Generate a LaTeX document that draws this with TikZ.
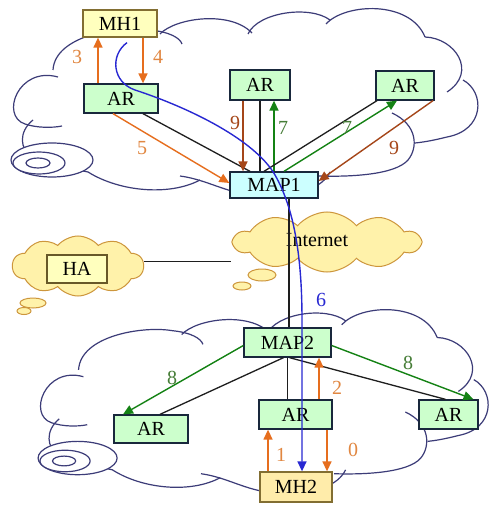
\documentclass[tikz,border=0pt]{standalone}
\usepackage{fontspec}
\setmainfont{Liberation Serif}
\usetikzlibrary{arrows.meta,shapes.symbols,calc}

\definecolor{cloudline}{RGB}{60,60,120}
\definecolor{argreen}{RGB}{204,255,204}
\definecolor{mapcyan}{RGB}{204,255,255}
\definecolor{mhyellow}{RGB}{255,255,190}
\definecolor{mhtwo}{RGB}{255,236,170}
\definecolor{boxline}{RGB}{25,40,60}
\definecolor{mhline}{RGB}{130,110,50}
\definecolor{yfill}{RGB}{255,242,170}
\definecolor{yline}{RGB}{205,150,60}
\definecolor{orng}{RGB}{230,110,30}
\definecolor{orlbl}{RGB}{225,135,65}
\definecolor{brwn}{RGB}{165,70,25}
\definecolor{grn}{RGB}{20,130,20}
\definecolor{grlbl}{RGB}{70,125,55}
\definecolor{blu}{RGB}{40,40,210}
\definecolor{blk}{RGB}{30,30,30}

\newcommand{\cloudarcs}{%
 \draw[cloudarc] (53,70) .. controls (55,35) and (120,25) .. (150,30) .. controls (170,32) and (180,38) .. (182,44);
 \draw[cloudarc] (58,77) .. controls (18,66) and (0,116) .. (25,124) .. controls (37,128) and (52,128) .. (62,126);
 \draw[cloudarc] (33,120) .. controls (18,132) and (20,150) .. (32,156) .. controls (45,165) and (70,168) .. (88,172) .. controls (120,192) and (170,196) .. (200,180);
 \draw[cloudarc] (180,176) .. controls (210,180) and (230,196) .. (265,196) .. controls (300,196) and (322,188) .. (330,172);
 \draw[cloudarc] (160,34) .. controls (175,18) and (230,10) .. (252,33);
 \draw[cloudarc] (248,34) .. controls (258,12) and (310,5) .. (330,20);
 \draw[cloudarc] (326,24) .. controls (345,3) and (410,0) .. (425,37);
 \draw[cloudarc] (425,37) .. controls (455,38) and (478,72) .. (447,92);
 \draw[cloudarc] (463,80) .. controls (485,92) and (485,130) .. (447,137) .. controls (435,140) and (425,142) .. (415,143);
 \draw[cloudarc] (318,176) .. controls (350,177) and (395,175) .. (408,160) .. controls (418,148) and (418,125) .. (392,113);
 \draw[cloudarc, fill=white] (52,160) ellipse [x radius=41, y radius=17];
 \draw[cloudarc, fill=white] (39,163) ellipse [x radius=26, y radius=11];
 \draw[cloudarc] (38,163) ellipse [x radius=12, y radius=5];
}

\begin{document}
\begin{tikzpicture}[x=1pt,y=-1pt,
  cloudarc/.style={draw=cloudline, line width=1.2pt},
  box/.style={draw=boxline, line width=1.3pt, inner sep=0pt, text=black,
    font=\fontsize{20}{20}\selectfont, minimum height=29pt},
  arbox/.style={box, fill=argreen},
  mapbox/.style={box, fill=mapcyan},
  mhbox/.style={box, draw=mhline, fill=mhyellow},
  ycloud/.style={cloud, cloud puffs=10, cloud puff arc=100, draw=yline, fill=yfill, line width=1pt, inner sep=0pt},
  bubble/.style={draw=yline, fill=yfill, line width=1pt},
  tip/.style={-{Triangle[width=9pt,length=10pt]}},
  oarrow/.style={tip, draw=orng, line width=1.4pt},
  barrow/.style={tip, draw=brwn, line width=1.4pt},
  garrow/.style={tip, draw=grn, line width=1.4pt},
  bluearrow/.style={tip, draw=blu, line width=1.4pt},
  plain/.style={draw=blk, line width=1.3pt},
  lbl/.style={font=\fontsize{20}{20}\selectfont, inner sep=0pt}
]
\useasboundingbox (0,0) rectangle (492,505);
\fill[white] (0,0) rectangle (492,505);

% white clouds
\cloudarcs
\begin{scope}[shift={(40,313)}, xscale=0.964, yscale=0.98, shift={(-13,-12)}]
\cloudarcs
\end{scope}

% yellow clouds
\node[ycloud, minimum width=131pt, minimum height=60pt] (hacl) at (78,266) {};
\draw[bubble] (33,303) ellipse [x radius=13, y radius=5];
\draw[bubble] (24,311) ellipse [x radius=7, y radius=3.5];
\node[ycloud, minimum width=186pt, minimum height=60pt] (inet) at (327,242) {};
\draw[bubble] (262,275) ellipse [x radius=14, y radius=6];
\draw[bubble] (242,286) ellipse [x radius=9, y radius=4];
\node[lbl] (inettxt) at (317,240) {Internet};

% boxes
\node[mhbox, minimum width=74pt, minimum height=27pt] (mh1) at (120,23.5) {MH1};
\node[arbox, minimum width=74pt] (artl) at (121,98.5) {AR};
\node[arbox, minimum width=60pt, minimum height=30pt] (artm) at (260,85) {AR};
\node[arbox, minimum width=58pt] (artr) at (405,85.5) {AR};
\node[mapbox, minimum width=88pt, minimum height=26pt] (map1) at (274,185) {MAP1};
\node[box, draw=mhline!80!black, fill=mhyellow, minimum width=60pt, minimum height=28pt] (ha) at (77,269) {HA};
\node[arbox, minimum width=87pt] (map2) at (287.5,342.5) {MAP2};
\node[arbox, minimum width=73pt] (arbm) at (295.5,414.5) {AR};
\node[arbox, minimum width=59pt] (arbr) at (448.5,414.5) {AR};
\node[arbox, minimum width=74pt, minimum height=28pt] (arbl) at (151,429) {AR};
\node[mhbox, fill=mhtwo, minimum width=72pt, minimum height=30pt] (mh2) at (296,487) {MH2};

% HA -- Internet
\draw[plain, line width=1pt] ([yshift=5pt]hacl.east) -- ([yshift=5pt]hacl.east -| inet.west);

% top connectors
\draw[oarrow] ([xshift=-23pt]artl.north) -- ([xshift=-23pt]artl.north |- mh1.south);
\draw[oarrow] ([xshift=22pt]artl.north |- mh1.south) -- ([xshift=22pt]artl.north);
\draw[oarrow] ([xshift=-8pt]artl.south) -- ([yshift=2pt]map1.west);
\draw[plain] ([xshift=22pt]artl.south) -- ([xshift=-24pt]map1.north);
\draw[barrow] ([xshift=-17pt]artm.south) -- ([xshift=-17pt]artm.south |- map1.north);
\draw[plain] (artm.south) -- (artm.south |- map1.north);
\draw[garrow] (map1.north) -- (map1.north |- artm.south);
\draw[plain] ([xshift=-28pt]artr.south) -- ([xshift=-10pt]map1.north);
\draw[garrow] ([xshift=10pt]map1.north) -- ([xshift=-8pt]artr.south);
\draw[barrow] ([xshift=28pt]artr.south) -- ([yshift=4pt]map1.east);

% MAP1 -- MAP2
\draw[plain] ([xshift=15pt]map1.south) -- ([xshift=15pt]map1.south |- map2.north);

% bottom connectors
\draw[plain] (map2.south) -- (map2.south |- arbm.north);
\draw[plain] ([xshift=-4pt]map2.south) -- ([xshift=9pt]arbl.north);
\draw[garrow] ([yshift=-3pt]map2.west) -- ([xshift=-28pt]arbl.north);
\draw[plain] ([xshift=2pt]map2.south) -- ([xshift=-3pt]arbr.north);
\draw[garrow] ([yshift=-3pt]map2.east) -- ([xshift=25pt]arbr.north);
\draw[oarrow] ([xshift=23.5pt]arbm.north) -- ([xshift=23.5pt]arbm.north |- map2.south);
\draw[oarrow] ([xshift=-28pt]mh2.north) -- ([xshift=-28pt]mh2.north |- arbm.south);
\draw[oarrow] ([xshift=31.5pt]arbm.south) -- ([xshift=31.5pt]arbm.south |- mh2.north);

% blue route
\draw[bluearrow] ([xshift=7pt,yshift=-5pt]mh1.south) .. controls (110,55) and (112,82) .. (135,90)
  .. controls (190,108) and (255,140) .. (275,175)
  .. controls (295,210) and (302,260) .. (302,320) -- ([xshift=6pt]mh2.north);

% labels
\node[lbl, text=orlbl] (l3) at (77,57) {3};
\node[lbl, text=orlbl] (l4) at (158,57) {4};
\node[lbl, text=orlbl] (l5) at (142,148) {5};
\node[lbl, text=brwn] (l9a) at (235,123) {9};
\node[lbl, text=grlbl] (l7a) at (283,128) {7};
\node[lbl, text=grlbl] (l7b) at (347,128) {7};
\node[lbl, text=brwn] (l9b) at (394,148) {9};
\node[lbl, text=blu] (l6) at (321,300) {6};
\node[lbl, text=grlbl] (l8a) at (172,378) {8};
\node[lbl, text=grlbl] (l8b) at (408,363) {8};
\node[lbl, text=orlbl] (l2) at (337,388) {2};
\node[lbl, text=orlbl] (l1) at (281,455) {1};
\node[lbl, text=orlbl] (l0) at (353,450) {0};
\end{tikzpicture}
\end{document}
